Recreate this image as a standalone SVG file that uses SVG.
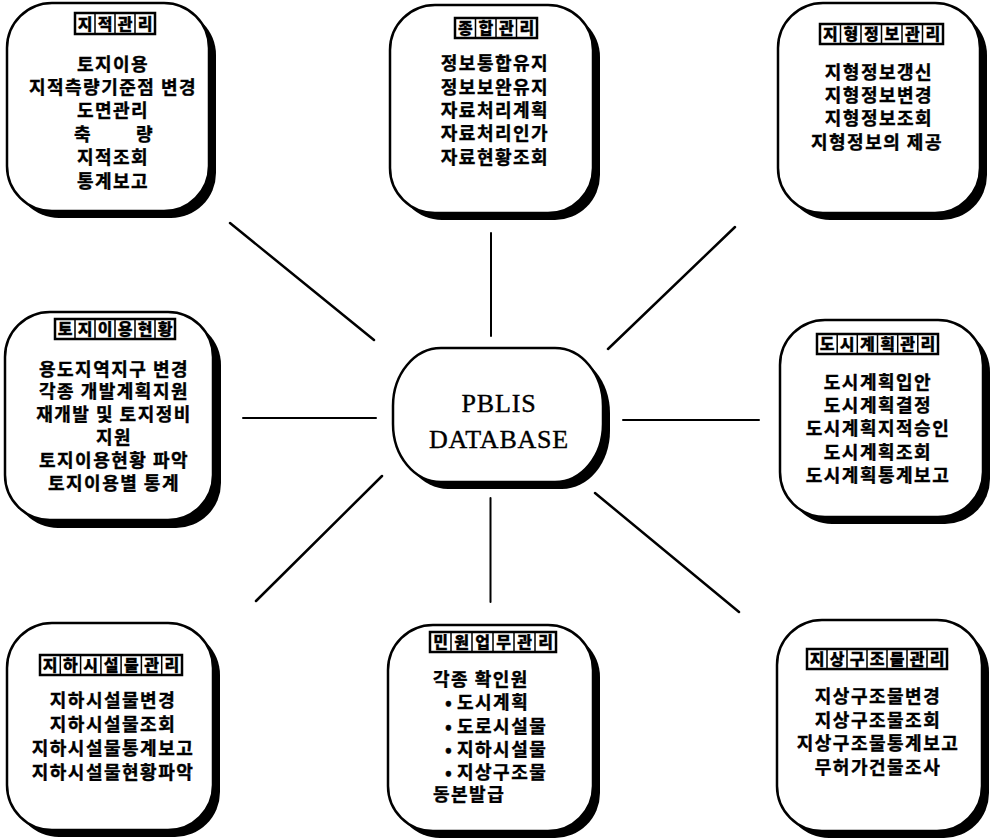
<svg xmlns="http://www.w3.org/2000/svg" width="990" height="838" viewBox="0 0 990 838">
  <style>
    .shadow { fill: #000; }
    .box { fill: #fff; stroke: #000; stroke-width: 2.5; }
    .t { font-family: "Noto Sans CJK KR", "Noto Sans", sans-serif; font-weight: 700; font-size: 18px; letter-spacing: 1.5px; text-anchor: middle; fill: #000; stroke: #000; stroke-width: 0.4px; }
    .ts { text-anchor: start; }
    .ttl { font-family: "Noto Sans CJK KR", "Noto Sans", sans-serif; font-weight: 900; font-size: 16px; text-anchor: middle; fill: #000; stroke: #000; stroke-width: 0.3px; }
    .tbox { fill: #fff; stroke: #000; stroke-width: 2.5; }
    .div { stroke: #000; stroke-width: 1.5; }
    .conn line { stroke: #000; stroke-width: 2.5; stroke-linecap: round; }
    .conn line.v { stroke-width: 2; }
    .db { font-family: "Liberation Serif", "Times New Roman", serif; font-size: 26px; letter-spacing: 0.8px; text-anchor: middle; fill: #000; stroke: #000; stroke-width: 0.4px; }
  </style>
  <rect width="990" height="838" fill="#fff"/>

  <!-- connectors radiating from the central database -->
  <g id="connectors" class="conn">
    <line x1="230" y1="223" x2="374" y2="340"/>
    <line class="v" x1="491" y1="233" x2="491" y2="336"/>
    <line x1="735" y1="227" x2="608" y2="349"/>
    <line class="v" x1="243" y1="418" x2="376" y2="418"/>
    <line class="v" x1="623" y1="420" x2="759" y2="420"/>
    <line x1="382" y1="476" x2="256" y2="601"/>
    <line class="v" x1="490.5" y1="498" x2="490.5" y2="602"/>
    <line x1="595" y1="493" x2="739" y2="612"/>
  </g>

  <!-- central database -->
  <g id="pblis-database">
    <rect class="shadow" x="400" y="355" width="210" height="134" rx="48" ry="58"/>
    <rect class="box" x="393" y="348" width="210" height="134" rx="48" ry="58"/>
    <text class="db" x="499" y="412">PBLIS</text>
    <text class="db" x="499" y="448">DATABASE</text>
  </g>

  <!-- 지적관리 -->
  <g id="cadastre">
    <rect class="shadow" x="14" y="10" width="202" height="208" rx="45"/>
    <rect class="box" x="7" y="3" width="202" height="208" rx="45"/>
    <rect class="tbox" x="75" y="13" width="80" height="21"/>
    <path class="div" d="M95 13v21M115 13v21M135 13v21"/>
    <text class="ttl" x="85 105 125 145" y="29.5">지적관리</text>
    <text class="t" x="113" y="71">토지이용</text>
    <text class="t" x="113" y="94">지적측량기준점 변경</text>
    <text class="t" x="113" y="117">도면관리</text>
    <text class="t" y="141"><tspan x="83">축</tspan><tspan x="145">량</tspan></text>
    <text class="t" x="113" y="164">지적조회</text>
    <text class="t" x="113" y="188">통계보고</text>
  </g>

  <!-- 종합관리 -->
  <g id="general">
    <rect class="shadow" x="397" y="12" width="203" height="208" rx="45"/>
    <rect class="box" x="390" y="5" width="203" height="208" rx="45"/>
    <rect class="tbox" x="455" y="18" width="82" height="20"/>
    <path class="div" d="M475.5 18v20M496 18v20M516.5 18v20"/>
    <text class="ttl" x="465.25 485.75 506.25 526.75" y="34">종합관리</text>
    <text class="t" x="495" y="70">정보통합유지</text>
    <text class="t" x="495" y="94">정보보완유지</text>
    <text class="t" x="495" y="117">자료처리계획</text>
    <text class="t" x="495" y="140">자료처리인가</text>
    <text class="t" x="495" y="164">자료현황조회</text>
  </g>

  <!-- 지형정보관리 -->
  <g id="terrain">
    <rect class="shadow" x="785" y="10" width="202" height="210" rx="45"/>
    <rect class="box" x="778" y="3" width="202" height="210" rx="45"/>
    <rect class="tbox" x="820" y="24" width="123" height="20"/>
    <path class="div" d="M840.5 24v20M861 24v20M881.5 24v20M902 24v20M922.5 24v20"/>
    <text class="ttl" x="830.25 850.75 871.25 891.75 912.25 932.75" y="40">지형정보관리</text>
    <text class="t" x="879" y="79">지형정보갱신</text>
    <text class="t" x="879" y="102">지형정보변경</text>
    <text class="t" x="879" y="125">지형정보조회</text>
    <text class="t" x="877" y="149">지형정보의 제공</text>
  </g>

  <!-- 토지이용현황 -->
  <g id="land-use">
    <rect class="shadow" x="13" y="320" width="208" height="208" rx="45"/>
    <rect class="box" x="5" y="312" width="208" height="208" rx="45"/>
    <rect class="tbox" x="55" y="319" width="120" height="20"/>
    <path class="div" d="M75 319v20M95 319v20M115 319v20M135 319v20M155 319v20"/>
    <text class="ttl" x="65 85 105 125 145 165" y="335">토지이용현황</text>
    <text class="t" x="114" y="376">용도지역지구 변경</text>
    <text class="t" x="114" y="398">각종 개발계획지원</text>
    <text class="t" x="114" y="421">재개발 및 토지정비</text>
    <text class="t" x="114" y="444">지원</text>
    <text class="t" x="114" y="467">토지이용현황 파악</text>
    <text class="t" x="114" y="490">토지이용별 통계</text>
  </g>

  <!-- 도시계획관리 -->
  <g id="urban-planning">
    <rect class="shadow" x="787" y="327" width="203" height="197" rx="45"/>
    <rect class="box" x="780" y="320" width="203" height="197" rx="45"/>
    <rect class="tbox" x="817" y="334" width="121" height="20"/>
    <path class="div" d="M837.2 334v20M857.3 334v20M877.5 334v20M897.7 334v20M917.8 334v20"/>
    <text class="ttl" x="827.1 847.2 867.4 887.6 907.7 927.9" y="350">도시계획관리</text>
    <text class="t" x="878" y="389">도시계획입안</text>
    <text class="t" x="878" y="412">도시계획결정</text>
    <text class="t" x="878" y="435">도시계획지적승인</text>
    <text class="t" x="878" y="459">도시계획조회</text>
    <text class="t" x="878" y="482">도시계획통계보고</text>
  </g>

  <!-- 지하시설물관리 -->
  <g id="underground">
    <rect class="shadow" x="14" y="630" width="206" height="207" rx="45"/>
    <rect class="box" x="7" y="623" width="206" height="207" rx="45"/>
    <rect class="tbox" x="40" y="655" width="142" height="20"/>
    <path class="div" d="M60.3 655v20M80.6 655v20M100.9 655v20M121.1 655v20M141.4 655v20M161.7 655v20"/>
    <text class="ttl" x="50.1 70.4 90.7 111 131.3 151.6 171.9" y="671">지하시설물관리</text>
    <text class="t" x="113" y="707">지하시설물변경</text>
    <text class="t" x="113" y="731">지하시설물조회</text>
    <text class="t" x="113" y="755">지하시설물통계보고</text>
    <text class="t" x="113" y="779">지하시설물현황파악</text>
  </g>

  <!-- 민원업무관리 -->
  <g id="civil-affairs">
    <rect class="shadow" x="395" y="632" width="205" height="206" rx="45"/>
    <rect class="box" x="388" y="625" width="205" height="206" rx="45"/>
    <rect class="tbox" x="430" y="632" width="126" height="20"/>
    <path class="div" d="M451 632v20M472 632v20M493 632v20M514 632v20M535 632v20"/>
    <text class="ttl" x="440.5 461.5 482.5 503.5 524.5 545.5" y="648">민원업무관리</text>
    <text class="t ts" x="433" y="686">각종 확인원</text>
    <text class="t ts" y="709"><tspan x="445">•</tspan><tspan x="457">도시계획</tspan></text>
    <text class="t ts" y="733"><tspan x="445">•</tspan><tspan x="457">도로시설물</tspan></text>
    <text class="t ts" y="756"><tspan x="445">•</tspan><tspan x="457">지하시설물</tspan></text>
    <text class="t ts" y="779"><tspan x="445">•</tspan><tspan x="457">지상구조물</tspan></text>
    <text class="t ts" x="433" y="801">동본발급</text>
  </g>

  <!-- 지상구조물관리 -->
  <g id="surface-structures">
    <rect class="shadow" x="784" y="627" width="205" height="211" rx="45"/>
    <rect class="box" x="777" y="620" width="205" height="211" rx="45"/>
    <rect class="tbox" x="807" y="649" width="140" height="20"/>
    <path class="div" d="M827 649v20M847 649v20M867 649v20M887 649v20M907 649v20M927 649v20"/>
    <text class="ttl" x="817 837 857 877 897 917 937" y="665">지상구조물관리</text>
    <text class="t" x="878" y="703">지상구조물변경</text>
    <text class="t" x="878" y="727">지상구조물조회</text>
    <text class="t" x="878" y="750">지상구조물통계보고</text>
    <text class="t" x="878" y="774">무허가건물조사</text>
  </g>
</svg>
